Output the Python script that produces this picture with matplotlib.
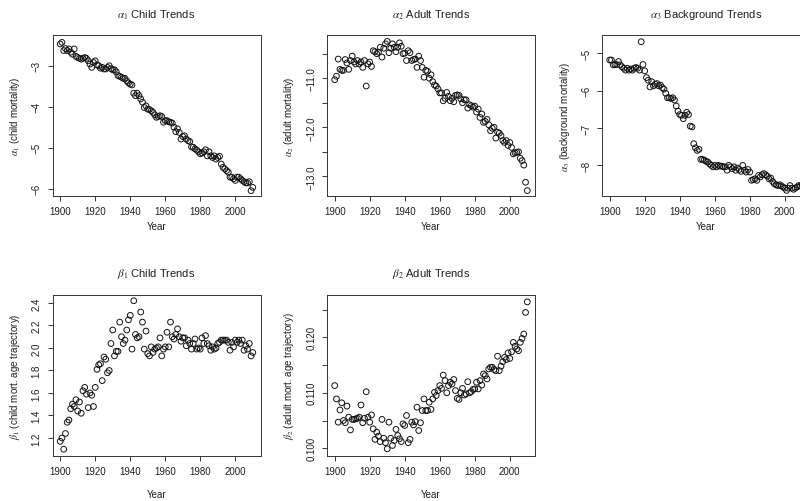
import matplotlib
matplotlib.use("Agg")
import matplotlib.pyplot as plt
from matplotlib.ticker import FixedLocator

plt.rcParams['font.family'] = ['Liberation Sans', 'DejaVu Sans']
plt.rcParams['mathtext.fontset'] = 'stix'
plt.rcParams['axes.unicode_minus'] = True

years = list(range(1900, 2011))

alpha1 = [
    -2.47, -2.43, -2.63, -2.58, -2.63, -2.59, -2.67, -2.72, -2.59, -2.77,
    -2.80, -2.82, -2.84, -2.82, -2.80, -2.82, -2.88, -2.96, -3.04, -2.92,
    -2.88, -2.98, -3.00, -3.06, -3.04, -3.08, -3.08, -3.04, -3.00, -3.07,
    -3.10, -3.10, -3.15, -3.24, -3.26, -3.28, -3.31, -3.31, -3.37, -3.42,
    -3.45, -3.47, -3.67, -3.73, -3.67, -3.73, -3.81, -3.89, -4.02, -3.98,
    -4.06, -4.07, -4.10, -4.14, -4.20, -4.26, -4.24, -4.22, -4.24, -4.38,
    -4.34, -4.34, -4.37, -4.38, -4.40, -4.50, -4.61, -4.54, -4.63, -4.79,
    -4.73, -4.71, -4.79, -4.83, -4.85, -4.98, -4.99, -5.03, -5.06, -5.10,
    -5.15, -5.13, -5.10, -5.05, -5.20, -5.10, -5.20, -5.24, -5.20, -5.28,
    -5.24, -5.21, -5.40, -5.48, -5.52, -5.56, -5.60, -5.72, -5.72, -5.76,
    -5.80, -5.72, -5.72, -5.76, -5.80, -5.83, -5.86, -5.86, -5.83, -6.05,
    -5.97]

alpha2 = [
    -11.03, -10.96, -10.61, -10.82, -10.84, -10.84, -10.62, -10.69, -10.82, -10.64,
    -10.55, -10.67, -10.71, -10.64, -10.71, -10.67, -10.78, -10.64, -11.16, -10.71,
    -10.67, -10.76, -10.44, -10.46, -10.50, -10.47, -10.37, -10.57, -10.39, -10.30,
    -10.25, -10.48, -10.39, -10.30, -10.37, -10.46, -10.37, -10.28, -10.35, -10.50,
    -10.49, -10.64, -10.44, -10.48, -10.64, -10.62, -10.61, -10.78, -10.55, -10.64,
    -10.78, -10.98, -10.84, -10.86, -11.00, -10.93, -11.07, -11.14, -11.16, -11.22,
    -11.30, -11.30, -11.46, -11.41, -11.29, -11.37, -11.46, -11.41, -11.48, -11.35,
    -11.34, -11.35, -11.42, -11.50, -11.44, -11.44, -11.61, -11.54, -11.56, -11.59,
    -11.57, -11.69, -11.63, -11.80, -11.73, -11.90, -11.88, -11.84, -11.95, -12.07,
    -12.02, -12.00, -12.22, -12.10, -12.12, -12.17, -12.27, -12.31, -12.27, -12.37,
    -12.31, -12.41, -12.54, -12.52, -12.51, -12.50, -12.63, -12.68, -12.77, -13.12,
    -13.29]

alpha3 = [
    -5.18, -5.18, -5.31, -5.30, -5.30, -5.22, -5.31, -5.36, -5.40, -5.45,
    -5.40, -5.45, -5.42, -5.45, -5.40, -5.38, -5.40, -5.45, -4.69, -5.30,
    -5.47, -5.65, -5.72, -5.90, -5.76, -5.87, -5.83, -5.81, -5.87, -5.85,
    -5.92, -5.96, -6.07, -6.19, -6.19, -6.21, -6.19, -6.25, -6.41, -6.55,
    -6.64, -6.66, -6.75, -6.66, -6.58, -6.64, -6.95, -6.97, -7.42, -7.53,
    -7.60, -7.57, -7.84, -7.84, -7.86, -7.89, -7.91, -7.96, -8.00, -8.04,
    -8.00, -8.04, -8.00, -8.02, -8.02, -8.04, -8.04, -8.13, -8.00, -8.04,
    -8.09, -8.04, -8.13, -8.07, -8.11, -8.16, -8.00, -8.13, -8.18, -8.11,
    -8.18, -8.40, -8.38, -8.36, -8.40, -8.27, -8.31, -8.25, -8.22, -8.25,
    -8.29, -8.36, -8.34, -8.43, -8.49, -8.52, -8.54, -8.52, -8.55, -8.58,
    -8.61, -8.67, -8.61, -8.54, -8.61, -8.64, -8.61, -8.58, -8.54, -8.55,
    -8.52]

beta1 = [
    1.17, 1.20, 1.10, 1.24, 1.34, 1.36, 1.46, 1.50, 1.48, 1.54,
    1.44, 1.52, 1.42, 1.62, 1.65, 1.59, 1.47, 1.60, 1.58, 1.48,
    1.65, 1.81, 1.85, 1.86, 1.71, 1.92, 1.90, 1.78, 1.80, 2.04,
    2.16, 1.93, 1.97, 1.97, 2.23, 2.10, 2.04, 2.07, 2.16, 2.25,
    2.29, 1.99, 2.42, 2.12, 2.09, 2.10, 2.32, 2.23, 1.99, 2.15,
    1.95, 1.93, 2.01, 1.96, 1.99, 2.00, 2.01, 2.09, 1.93, 1.99,
    2.01, 2.14, 2.01, 2.23, 2.10, 2.08, 2.12, 2.17, 2.10, 2.06,
    2.09, 2.09, 2.02, 2.07, 2.04, 1.99, 2.04, 2.08, 1.99, 2.00,
    1.99, 2.09, 2.04, 2.11, 2.04, 2.02, 1.98, 2.01, 1.99, 2.00,
    2.04, 2.05, 2.07, 2.07, 2.07, 2.07, 2.05, 1.98, 2.05, 2.01,
    2.07, 2.05, 2.07, 2.04, 2.07, 1.98, 2.02, 1.99, 2.04, 1.93,
    1.96]

beta2 = [
    0.1113, 0.1089, 0.1047, 0.1069, 0.1082, 0.1050, 0.1046, 0.1076, 0.1056, 0.1033,
    0.1052, 0.1052, 0.1053, 0.1054, 0.1056, 0.1078, 0.1046, 0.1054, 0.1102, 0.1056,
    0.1047, 0.1060, 0.1035, 0.1016, 0.1029, 0.1022, 0.1012, 0.1052, 0.1018, 0.1010,
    0.0999, 0.1047, 0.1018, 0.1005, 0.1014, 0.1034, 0.1023, 0.1017, 0.1012, 0.1044,
    0.1041, 0.1059, 0.1010, 0.1016, 0.1047, 0.1042, 0.1048, 0.1074, 0.1032, 0.1046,
    0.1068, 0.1089, 0.1068, 0.1068, 0.1083, 0.1070, 0.1089, 0.1101, 0.1095, 0.1104,
    0.1113, 0.1108, 0.1132, 0.1122, 0.1100, 0.1113, 0.1119, 0.1116, 0.1124, 0.1104,
    0.1090, 0.1088, 0.1100, 0.1108, 0.1096, 0.1098, 0.1120, 0.1100, 0.1102, 0.1106,
    0.1107, 0.1119, 0.1107, 0.1122, 0.1114, 0.1134, 0.1131, 0.1125, 0.1143, 0.1146,
    0.1146, 0.1142, 0.1140, 0.1166, 0.1140, 0.1148, 0.1156, 0.1164, 0.1160, 0.1172,
    0.1162, 0.1174, 0.1191, 0.1184, 0.1179, 0.1176, 0.1191, 0.1198, 0.1206, 0.1245,
    0.1264]

titles = [r'$\alpha_1$ Child Trends', r'$\alpha_2$ Adult Trends',
          r'$\alpha_3$ Background Trends', r'$\beta_1$ Child Trends',
          r'$\beta_2$ Adult Trends']
ylabels = [r'$\alpha_1$ (child mortality)', r'$\alpha_2$ (adult mortality)',
           r'$\alpha_3$ (background mortality)',
           r'$\beta_1$ (child mort. age trajectory)',
           r'$\beta_2$ (adult mort. age trajectory)']
xticks = [1900, 1920, 1940, 1960, 1980, 2000]
yticks_list = [
    [-6, -5, -4, -3],
    [-13.0, -12.5, -12.0, -11.5, -11.0, -10.5],
    [-8, -7, -6, -5],
    [1.2, 1.4, 1.6, 1.8, 2.0, 2.2, 2.4],
    [0.100, 0.105, 0.110, 0.115, 0.120, 0.125],
]
ytick_labels = [
    ['\u22126', '\u22125', '\u22124', '\u22123'],
    ['\u221213.0', '', '\u221212.0', '', '\u221211.0', ''],
    ['\u22128', '\u22127', '\u22126', '\u22125'],
    ['1.2', '1.4', '1.6', '1.8', '2.0', '2.2', '2.4'],
    ['0.100', '', '0.110', '', '0.120', ''],
]
ylims = [(-6.18, -2.25), (-13.40, -10.12), (-8.82, -4.51), (1.04, 2.471), (0.0986, 0.12764)]
series = [alpha1, alpha2, alpha3, beta1, beta2]

W, H = 800, 502
fig = plt.figure(figsize=(W / 100, H / 100), dpi=100)
fig.patch.set_facecolor('white')

lefts = [52.5, 327, 602]
box_w = 208
rows = [(36, 197), (296, 457)]
title_y = [15, 274]
xlabel_y = [227, 495]
TXT = '#1e1e1e'

for i in range(5):
    r, c = divmod(i, 3)
    top, bot = rows[r]
    h = bot - top
    ax = fig.add_axes([lefts[c] / W, 1 - bot / H, box_w / W, h / H])
    ax.scatter(years, series[i], s=17, facecolors='none', edgecolors='#111111',
               linewidths=0.7, zorder=3)
    ax.set_xlim(1895.6, 2014.4)
    ax.set_ylim(*ylims[i])
    ax.set_xticks(xticks)
    ax.set_xticklabels([str(x) for x in xticks])
    ax.yaxis.set_major_locator(FixedLocator(yticks_list[i]))
    ax.set_yticklabels(ytick_labels[i])
    ax.tick_params(axis='both', direction='out', length=3.6, width=0.7,
                   colors='#333333', labelcolor=TXT, labelsize=7)
    ax.tick_params(axis='x', pad=3.8)
    ax.tick_params(axis='y', pad=4.2, labelrotation=90)
    for lbl in ax.get_yticklabels():
        lbl.set_va('center')
        lbl.set_ha('right')
    for sp in ax.spines.values():
        sp.set_linewidth(0.7)
        sp.set_color('#333333')
    ax.set_title(titles[i], fontsize=8, color=TXT, pad=0,
                 y=1 + (top - title_y[r]) / h, va='center')
    ax.set_xlabel('Year', fontsize=7, color=TXT)
    ax.xaxis.set_label_coords(0.5, -(xlabel_y[r] - bot) / h)
    ax.xaxis.label.set_va('center')
    ax.set_ylabel(ylabels[i], fontsize=7, color=TXT)
    ax.yaxis.set_label_coords(-37.5 / box_w, 0.5)
    ax.yaxis.label.set_va('center')

fig.savefig('out.png', dpi=100, facecolor='white')
